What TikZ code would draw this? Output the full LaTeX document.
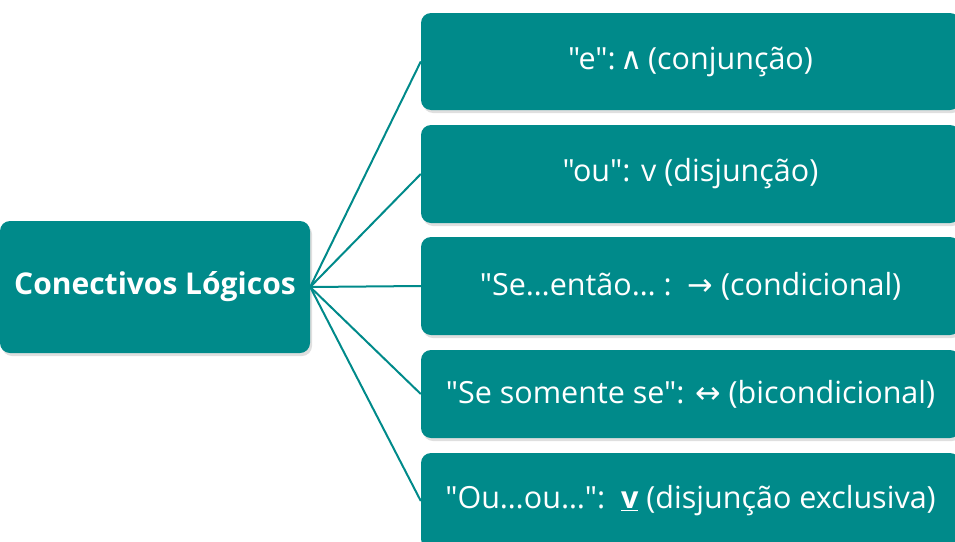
\documentclass[tikz,border=0pt]{standalone}
\usepackage{fontspec}
\setmainfont{Open Sans}[Ligatures=TeXOff]
\newfontfamily\symfont{DejaVu Sans}
\usetikzlibrary{shadows}
\definecolor{tealbox}{RGB}{0,138,138}
\tikzset{
  box/.style={fill=tealbox, draw=none, rounded corners=10pt, text=white,
    font=\fontsize{30.5}{36}\selectfont, inner sep=0pt, anchor=center,
    drop shadow={opacity=0.25, shadow xshift=2pt, shadow yshift=-3pt}},
  conn/.style={draw=tealbox, line width=2pt}
}
\begin{document}
\begin{tikzpicture}[x=1pt,y=-1pt]
\useasboundingbox (0,0) rectangle (955,541);
\node[box, minimum width=310pt, minimum height=132pt, font=\fontsize{30}{36}\selectfont\bfseries] (root) at (155,287) {Conectivos Lógicos};
\node[box, minimum width=539pt, minimum height=97pt] (b1) at (690.5,61.5) {"e":\,{\symfont ∧}\,(conjunção)};
\node[box, minimum width=539pt, minimum height=98pt] (b2) at (690.5,174) {"ou": v (disjunção)};
\node[box, minimum width=539pt, minimum height=98pt] (b3) at (690.5,286) {"Se…então… :\ \ {\symfont →} (condicional)};
\node[box, minimum width=539pt, minimum height=88pt] (b4) at (690.5,394) {"Se somente se": {\symfont ↔} (bicondicional)};
\node[box, minimum width=539pt, minimum height=96pt] (b5) at (690.5,501) {"Ou…ou…":\ \ \underline{\textbf{v}} (disjunção exclusiva)};
\foreach \b in {b1,b2,b3,b4,b5}
  \draw[conn] (root.east) -- (\b.west);
\end{tikzpicture}
\end{document}
